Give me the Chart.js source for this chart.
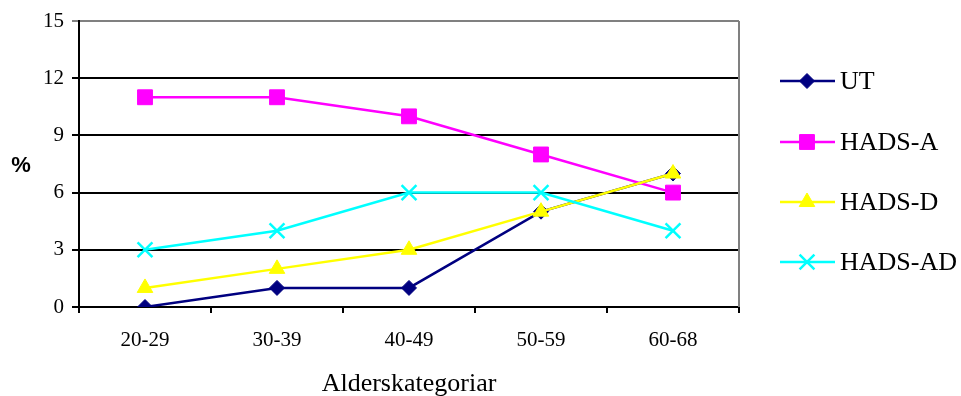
<!DOCTYPE html>
<html>
<head>
<meta charset="utf-8">
<script src="https://cdn.jsdelivr.net/npm/chart.js@4/dist/chart.umd.min.js"></script>
<style>
  html, body { margin: 0; padding: 0; background: #fff; }
  #wrap { width: 961px; height: 396px; position: relative; }
</style>
</head>
<body>
<div id="wrap"><canvas id="c" width="961" height="396"></canvas></div>
<script>
// Age groups and share (%) per measure
const categories = ['20-29', '30-39', '40-49', '50-59', '60-68'];
const utValues     = [0, 1, 1, 5, 7];
const hadsAValues  = [11, 11, 10, 8, 6];
const hadsDValues  = [1, 2, 3, 5, 7];
const hadsADValues = [3, 4, 6, 6, 4];
const yTicks = [0, 3, 6, 9, 12, 15];
const xTitle = 'Alderskategoriar';
const yTitle = '%';

const serif = '"Liberation Serif", "Times New Roman", serif';

function series(label, data, color, style, radius, order) {
  return {
    label, data, order,
    borderColor: color, backgroundColor: color,
    borderWidth: 2.5,
    pointStyle: style, pointRadius: radius, pointHoverRadius: radius,
    pointBorderColor: color, pointBackgroundColor: color,
    pointBorderWidth: style === 'crossRot' ? 2.5 : 1,
    tension: 0
  };
}

const datasets = [
  series('UT', utValues, '#000080', 'rectRot', 7.5, 4),
  series('HADS-A', hadsAValues, '#FF00FF', 'rect', 10.5, 3),
  series('HADS-D', hadsDValues, '#FFFF00', 'triangle', 9, 2),
  series('HADS-AD', hadsADValues, '#00FFFF', 'crossRot', 10.5, 1)
];

function drawMarker(ctx, style, r, bw, x, y) {
  Chart.helpers.drawPoint(ctx, { pointStyle: style, radius: r, borderWidth: bw, rotation: 0 }, x, y);
}

// Right border, "%" label and the side legend
const decorations = {
  id: 'decorations',
  afterDraw(chart) {
    const ctx = chart.ctx;
    const a = chart.chartArea;
    ctx.save();
    ctx.strokeStyle = '#808080';
    ctx.lineWidth = 2;
    ctx.beginPath();
    ctx.moveTo(a.right, a.top);
    ctx.lineTo(a.right, a.bottom);
    ctx.stroke();

    ctx.fillStyle = '#000';
    ctx.font = 'bold 22px "Liberation Sans", Arial, sans-serif';
    ctx.textAlign = 'center';
    ctx.textBaseline = 'middle';
    ctx.fillText(yTitle, 21, 166);

    const rowY = [81, 142, 202, 262];
    chart.data.datasets.forEach((ds, i) => {
      const y = rowY[i];
      ctx.strokeStyle = ds.borderColor;
      ctx.lineWidth = ds.borderWidth;
      ctx.beginPath();
      ctx.moveTo(780, y);
      ctx.lineTo(835, y);
      ctx.stroke();
      ctx.fillStyle = ds.pointBackgroundColor;
      ctx.strokeStyle = ds.pointBorderColor;
      ctx.lineWidth = ds.pointBorderWidth;
      drawMarker(ctx, ds.pointStyle, ds.pointRadius, ds.pointBorderWidth, 807, y);
      ctx.fillStyle = '#000';
      ctx.font = '26px ' + serif;
      ctx.textAlign = 'left';
      ctx.textBaseline = 'middle';
      ctx.fillText(ds.label, 840, y + 1);
    });
    ctx.restore();
  }
};

new Chart(document.getElementById('c'), {
  type: 'line',
  data: { labels: categories, datasets },
  plugins: [decorations],
  options: {
    responsive: false,
    animation: false,
    events: [],
    layout: { padding: { top: 21, right: 222, left: 0, bottom: 0 } },
    plugins: { legend: { display: false }, tooltip: { enabled: false } },
    scales: {
      x: {
        type: 'category',
        offset: true,
        grid: {
          offset: true,
          drawOnChartArea: false,
          drawTicks: true,
          tickLength: 6,
          color: '#000',
          lineWidth: 2
        },
        border: { display: true, color: '#000', width: 2 },
        ticks: { color: '#000', font: { family: serif, size: 21 }, padding: 15, maxRotation: 0 },
        title: { display: true, text: xTitle, color: '#000', font: { family: serif, size: 26 }, padding: { top: 12, bottom: -4 } },
        afterFit(scale) { scale.height = 89; }
      },
      y: {
        min: 0, max: 15,
        afterBuildTicks(scale) { scale.ticks = yTicks.map(v => ({ value: v })); },
        grid: {
          color: ctx => (ctx.tick && ctx.tick.value === 15 ? '#808080' : '#000'),
          lineWidth: 2,
          tickLength: 7,
          drawTicks: true
        },
        border: { display: true, color: '#000', width: 2 },
        ticks: { color: '#000', font: { family: serif, size: 21 }, padding: 8 },
        afterFit(scale) { scale.width = 79; }
      }
    }
  }
});
</script>
</body>
</html>
